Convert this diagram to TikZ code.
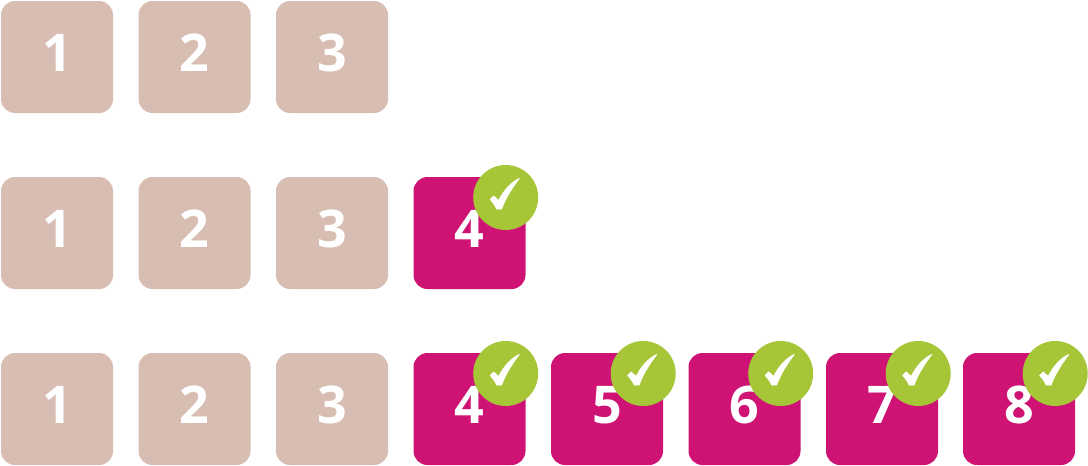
\documentclass[tikz,border=0pt]{standalone}
\usepackage{fontspec}
\setmainfont{Open Sans}
\definecolor{tan}{HTML}{D7BDB2}
\definecolor{berry}{HTML}{CE1374}
\definecolor{leaf}{HTML}{A6C537}
\tikzset{
  box/.style={rounded corners=14pt, minimum size=112pt, inner sep=0pt, text=white,
    text height=37pt, text depth=8pt, font=\fontsize{52}{52}\selectfont\bfseries},
  oldbox/.style={box, fill=tan},
  newbox/.style={box, fill=berry},
  badge/.style={circle, fill=leaf, minimum size=65pt, inner sep=0pt},
  okmark/.pic={\filldraw[white, line width=.8pt, line join=round] (-15.5,2) -- (-12,-1.5) -- (-7,3) .. controls (-2,-7) and (5,-15) .. (13.5,-19)
    .. controls (6,-9) and (-1,2) .. (-4,11.5) -- (-9,11.5) .. controls (-10.5,8) and (-13,4.5) .. (-15.5,2) -- cycle;}
}
\begin{document}
\begin{tikzpicture}[x=1pt,y=-1pt]
  \useasboundingbox (0,0) rectangle (1088,466);
  % grey steps in all rows
  \foreach \j/\x in {1/57,2/194.5,3/332} {
    \node (\j1) at (\x,57) [oldbox] {\j};
    \node (\j2) at (\x,233) [oldbox] {\j};
    \node (\j3) at (\x,409) [oldbox] {\j};
  }
  \node (42) at (469.5,233) [newbox] {4};
  \node (c42) at (505.7,197.5) [badge] {};
  \pic at (c42) {okmark};
  \foreach \j/\x in {4/469.5,5/607,6/744.5,7/882,8/1019} {
    \node (\j3) at (\x,409) [newbox] {\j};
    \node (c\j3) at (\x+36.2,373.5) [badge] {};
    \pic at (c\j3) {okmark};
  }
\end{tikzpicture}
\end{document}
